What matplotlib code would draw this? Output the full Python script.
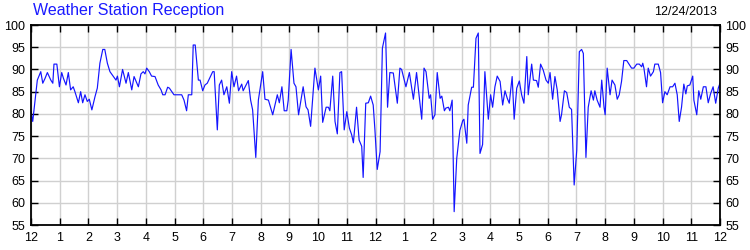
"""
Weather Station Reception - two years of signal quality readings
"""

import matplotlib
matplotlib.use('Agg')
import matplotlib.pyplot as plt

plt.rcParams.update({
    'font.family': ['Liberation Sans', 'DejaVu Sans'],
    'font.size': 9,
})

LINEBLUE = '#1414ff'
GRIDGRAY = '#d0d0d0'

# x position in months since the first "12" tick, reception value (%)
months = [
    0.00, 0.06, 0.22, 0.34, 0.41, 0.49, 0.57, 0.69, 0.76, 0.80, 0.90, 0.99,
    1.07, 1.13, 1.22, 1.30, 1.38, 1.47, 1.53, 1.65, 1.73, 1.80, 1.88, 1.96,
    2.03, 2.12, 2.23, 2.31, 2.40, 2.50, 2.57, 2.66, 2.75, 2.87, 2.96, 3.01,
    3.08, 3.19, 3.31, 3.39, 3.51, 3.59, 3.66, 3.74, 3.83, 3.91, 3.97, 4.03,
    4.12, 4.20, 4.32, 4.43, 4.53, 4.59, 4.67, 4.76, 4.82, 4.98, 5.25, 5.33,
    5.42, 5.48, 5.60, 5.65, 5.72, 5.83, 5.89, 5.98, 6.06, 6.14, 6.33, 6.38,
    6.49, 6.56, 6.64, 6.72, 6.82, 6.91, 6.99, 7.07, 7.16, 7.23, 7.34, 7.39,
    7.57, 7.65, 7.72, 7.83, 7.92, 8.07, 8.15, 8.27, 8.42, 8.50, 8.58, 8.65,
    8.74, 8.82, 8.91, 8.96, 9.06, 9.16, 9.23, 9.32, 9.48, 9.58, 9.65, 9.74,
    9.89, 10.01, 10.09, 10.16, 10.28, 10.36, 10.41, 10.51, 10.59, 10.67,
    10.76, 10.82, 10.91, 11.00, 11.09, 11.17, 11.23, 11.34, 11.43, 11.52,
    11.57, 11.66, 11.75, 11.83, 11.92, 11.98, 12.06, 12.16, 12.24, 12.35,
    12.42, 12.50, 12.62, 12.76, 12.85, 12.91, 13.06, 13.18, 13.32, 13.43,
    13.55, 13.61, 13.69, 13.76, 13.87, 13.92, 13.99, 14.07, 14.15, 14.25,
    14.31, 14.40, 14.45, 14.54, 14.59, 14.67, 14.74, 14.83, 14.94, 15.04,
    15.08, 15.18, 15.23, 15.35, 15.41, 15.50, 15.58, 15.64, 15.73, 15.81,
    15.93, 16.01, 16.08, 16.16, 16.24, 16.34, 16.43, 16.51, 16.59, 16.66,
    16.76, 16.83, 16.92, 17.01, 17.09, 17.17, 17.27, 17.32, 17.44, 17.50,
    17.61, 17.67, 17.75, 17.84, 17.94, 18.02, 18.08, 18.17, 18.25, 18.33,
    18.43, 18.48, 18.58, 18.66, 18.75, 18.83, 18.92, 19.01, 19.10, 19.18,
    19.24, 19.33, 19.41, 19.51, 19.59, 19.64, 19.72, 19.82, 19.88, 19.96,
    20.00, 20.07, 20.17, 20.24, 20.34, 20.42, 20.49, 20.57, 20.65, 20.75,
    20.92, 21.00, 21.10, 21.19, 21.27, 21.31, 21.35, 21.44, 21.50, 21.58,
    21.68, 21.73, 21.85, 21.93, 22.00, 22.08, 22.16, 22.26, 22.35, 22.43,
    22.51, 22.58, 22.66, 22.74, 22.81, 22.86, 22.95, 23.05, 23.09, 23.19,
    23.26, 23.33, 23.42, 23.51, 23.59, 23.67, 23.76, 23.85, 23.94, 24.00,
]
reception = [
    80.5, 78.3, 87.6, 89.5, 86.9, 88.0, 89.3, 87.6, 86.9, 91.2, 91.2, 86.1,
    89.3, 88.0, 86.5, 89.3, 85.4, 86.1, 85.0, 82.5, 85.0, 82.5, 84.3, 82.8,
    83.3, 80.9, 83.9, 85.8, 91.4, 94.5, 94.5, 91.4, 89.5, 88.4, 87.6, 88.5,
    86.1, 90.0, 86.9, 89.3, 85.4, 88.4, 87.3, 86.1, 89.0, 89.5, 89.0, 90.3,
    89.5, 88.5, 88.4, 86.5, 85.4, 84.3, 84.3, 86.0, 85.8, 84.3, 84.3, 83.1,
    80.7, 84.3, 84.3, 95.5, 95.5, 87.6, 87.6, 85.2, 86.5, 86.9, 89.5, 89.5,
    76.4, 86.5, 87.6, 84.3, 86.1, 82.4, 89.5, 86.1, 88.5, 85.2, 86.7, 85.2,
    87.5, 83.1, 80.9, 70.2, 83.1, 89.5, 83.3, 83.1, 79.8, 82.0, 84.3, 82.5,
    86.1, 80.7, 80.7, 83.1, 94.5, 86.9, 86.1, 79.8, 86.1, 81.6, 80.9, 77.2,
    90.3, 85.4, 88.5, 78.1, 81.5, 81.5, 80.7, 88.5, 78.3, 75.5,
    89.3, 89.5, 76.4, 80.5, 76.8, 75.3, 73.5, 81.5, 74.1, 72.7,
    65.7, 82.4, 82.5, 84.0, 82.0, 76.4, 67.5, 71.5, 94.8, 98.2,
    81.5, 89.3, 89.2, 82.4, 90.3, 90.0, 86.1, 89.3, 83.3, 89.3,
    82.4, 78.8, 90.3, 89.5, 83.5, 84.3, 78.8, 79.8, 89.3, 83.5,
    84.0, 80.7, 81.3, 81.5, 80.7, 83.1, 58.0, 70.0, 76.3, 78.5,
    78.8, 73.4, 82.0, 86.0, 86.0, 97.0, 98.2, 71.1, 73.1, 89.5,
    78.8, 84.3, 81.5, 86.1, 88.5, 87.3, 82.0, 85.2, 83.5, 82.4,
    88.4, 78.8, 85.8, 87.4, 84.3, 82.4, 92.9, 84.3, 91.2, 87.6,
    87.5, 86.0, 91.2, 89.9, 87.6, 86.9, 89.3, 83.3, 88.4, 85.4,
    78.3, 79.8, 85.2, 84.8, 81.5, 81.0, 64.0, 71.8, 94.0, 94.5,
    93.6, 70.2, 81.5, 85.2, 83.1, 85.2, 83.1, 81.5, 87.6, 81.5,
    79.8, 90.3, 84.3, 87.6, 86.5, 83.3, 84.3, 87.3, 92.0, 92.0,
    90.3, 90.3, 91.2, 91.2, 90.6, 91.4, 90.3, 86.1, 90.3, 88.5,
    89.5, 91.2, 91.2, 89.3, 82.5, 85.0, 84.3, 86.1, 86.1, 86.9,
    84.3, 78.3, 81.5, 86.7, 84.5, 86.3, 86.5, 88.5, 83.1, 79.8,
    85.2, 83.3, 86.1, 86.1, 82.5, 84.5, 86.1, 82.4, 85.8, 86.9,
]

month_labels = ['12', '1', '2', '3', '4', '5', '6', '7', '8', '9', '10', '11',
                '12', '1', '2', '3', '4', '5', '6', '7', '8', '9', '10', '11', '12']
y_ticks = [55, 60, 65, 70, 75, 80, 85, 90, 95, 100]

fig = plt.figure(figsize=(7.5, 2.5), dpi=100)
ax = fig.add_axes([31 / 750, 25 / 250, 689 / 750, 200 / 250])

ax.plot(months, reception, color=LINEBLUE, linewidth=0.85)

ax.set_xlim(0, 24)
ax.set_ylim(55, 100)
ax.set_xticks(range(len(month_labels)))
ax.set_xticklabels(month_labels)
ax.set_yticks(y_ticks)
ax.set_yticklabels([str(v) for v in y_ticks])

ax.grid(True, color=GRIDGRAY, linewidth=1.0)
ax.set_axisbelow(True)
for spine in ax.spines.values():
    spine.set_linewidth(1.3)
    spine.set_color('black')

ax.tick_params(direction='in', length=5, width=1.0, top=True, right=True,
               labelright=True, labelsize=9, colors='black', pad=4)
ax.tick_params(axis='x', pad=5)

fig.text(33 / 750, 1 - 11 / 250, 'Weather Station Reception', color='#1a1aff',
         fontsize=11.5, ha='left', va='center')
fig.text(717 / 750, 1 - 12 / 250, '12/24/2013', color='black',
         fontsize=9, ha='right', va='center')

fig.savefig('out.png', dpi=100)
plt.close(fig)
